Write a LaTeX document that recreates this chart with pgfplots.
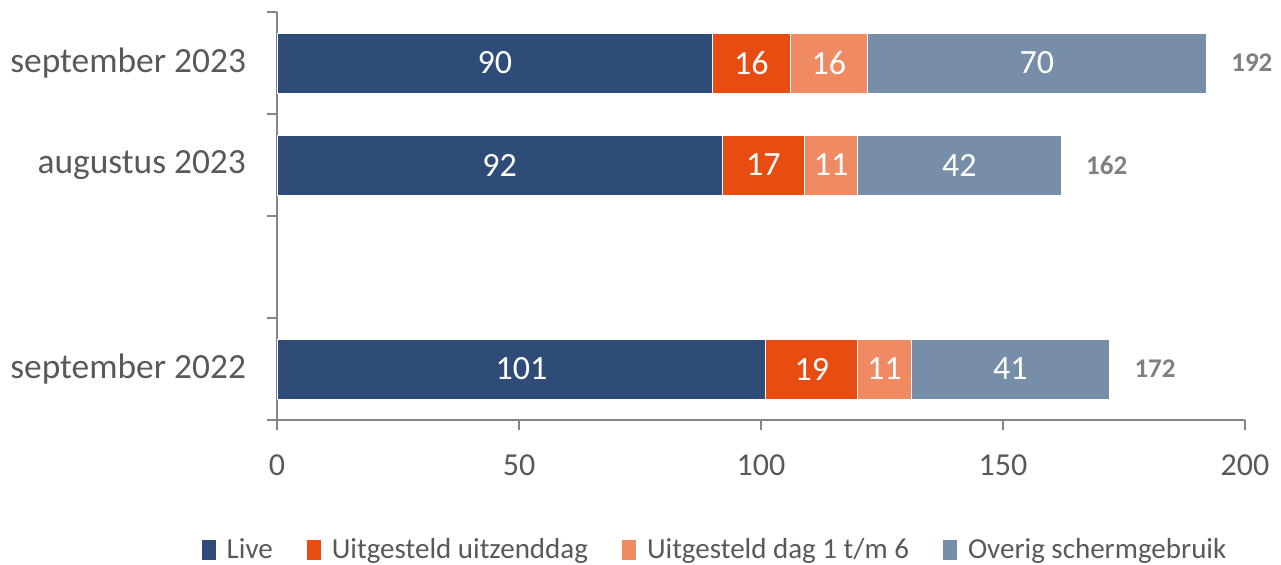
\documentclass[border=0pt]{standalone}
\usepackage{pgfplots}
\pgfplotsset{compat=1.18}
\usepackage{fontspec}
\setmainfont{Carlito}
\definecolor{cLive}{HTML}{2F4C78}
\definecolor{cUitz}{HTML}{E84C10}
\definecolor{cDag}{HTML}{F08A62}
\definecolor{cOver}{HTML}{778EA9}
\definecolor{txt}{HTML}{595959}
\definecolor{tot}{HTML}{7F7F7F}
\definecolor{axg}{HTML}{868686}
\pgfplotsset{frame/.style={at={(0,0)}, anchor=south west,
  scale only axis, width=484pt, height=204pt,
  xmin=0, xmax=200, ymin=-0.5, ymax=3.5}}
\begin{document}
\begin{tikzpicture}
\useasboundingbox (-138.5pt,-72pt) rectangle (502pt,210pt);
\begin{axis}[
  frame,
  xbar stacked, bar width=30pt,
  axis x line*=bottom, axis y line*=left,
  axis line style={draw=axg, line width=1pt},
  xtick={0,50,100,150,200},
  /pgf/number format/assume math mode=true,
  xticklabel style={font=\fontsize{16}{18}\selectfont, color=txt, yshift=-9pt},
  x tick style={draw=axg, line width=0.75pt},
  major tick length=5pt, tick align=outside,
  ytick={-0.5,0.5,1.5,2.5,3.5}, yticklabels={},
  y tick style={draw=axg, line width=0.75pt},
  extra y ticks={0,2,3},
  extra y tick labels={september 2022, augustus 2023, september 2023},
  extra y tick style={major tick length=0pt, yticklabel style={font=\fontsize{17.7}{19}\selectfont, color=txt, xshift=-12pt}},
  legend style={at={(0.4535,-0.319)}, anchor=center, draw=none, legend columns=4,
    font=\fontsize{14.5}{16}\selectfont, text=txt,
    /tikz/every even column/.append style={column sep=15pt},
    /tikz/every odd column/.append style={column sep=3.5pt}},
  legend image code/.code={\fill[#1, draw=none] (0pt,-5pt) rectangle (7pt,5pt);},
]
\addplot[fill=cLive, draw=white, line width=0.4pt] coordinates {(90,3) (92,2) (101,0)};
\addplot[fill=cUitz, draw=white, line width=0.4pt] coordinates {(16,3) (17,2) (19,0)};
\addplot[fill=cDag, draw=white, line width=0.4pt] coordinates {(16,3) (11,2) (11,0)};
\addplot[fill=cOver, draw=white, line width=0.4pt] coordinates {(70,3) (42,2) (41,0)};
\legend{Live, Uitgesteld uitzenddag, Uitgesteld dag 1 t/m 6, Overig schermgebruik}
\end{axis}
\begin{axis}[frame, hide axis, clip=false,
  point meta=explicit symbolic,
  nodes near coords={\pgfplotspointmeta},
  every node near coord/.append style={anchor=center, color=white, font=\fontsize{17}{19}\selectfont}]
% segment centres
\addplot[draw=none, mark=none, nodes near coords] coordinates {
  (45,3)[90] (98,3)[16] (114,3)[16] (157,3)[70]
  (46,2)[92] (100.5,2)[17] (114.5,2)[11] (141,2)[42]
  (50.5,0)[101] (110.5,0)[19] (125.5,0)[11] (151.5,0)[41]};
% totals
\addplot[draw=none, mark=none, nodes near coords,
  every node near coord/.append style={anchor=west, xshift=9pt, color=tot, font=\bfseries\fontsize{13.5}{15}\selectfont}]
  coordinates {(192,3)[192] (162,2)[162] (172,0)[172]};
\end{axis}
\end{tikzpicture}
\end{document}
